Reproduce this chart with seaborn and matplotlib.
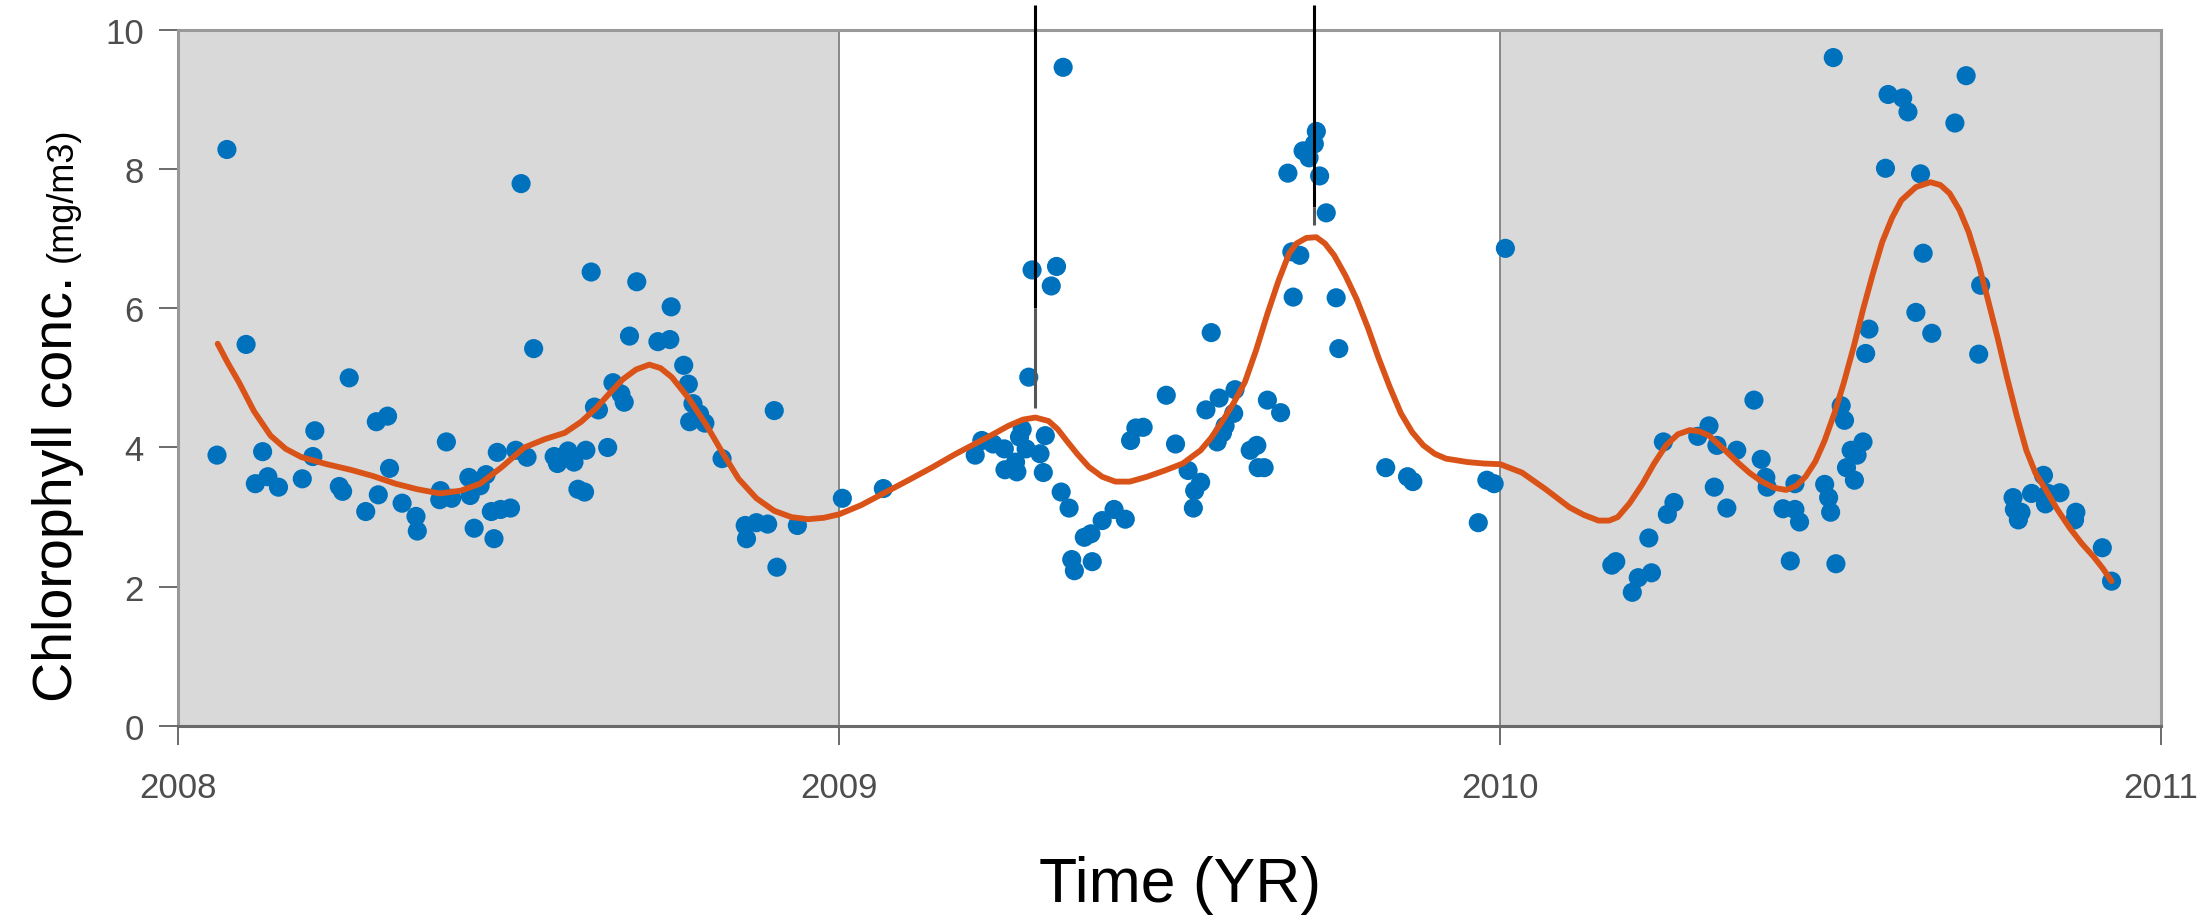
import numpy as np
import pandas as pd
import seaborn as sns
import matplotlib
matplotlib.use("Agg")
import matplotlib.pyplot as plt

sns.set_theme(style="white")
plt.rcParams["font.family"] = ["Liberation Sans", "DejaVu Sans"]

# observed chlorophyll samples (decimal year, mg/m3)
obs_time = [
    2008.059, 2008.074, 2008.103, 2008.117, 2008.128, 2008.136, 2008.152, 2008.188,
    2008.204, 2008.207, 2008.244, 2008.249, 2008.259, 2008.284, 2008.300, 2008.303,
    2008.317, 2008.320, 2008.339, 2008.360, 2008.362, 2008.396, 2008.397, 2008.406,
    2008.414, 2008.440, 2008.442, 2008.448, 2008.457, 2008.466, 2008.474, 2008.478,
    2008.483, 2008.488, 2008.503, 2008.511, 2008.519, 2008.528, 2008.538, 2008.569,
    2008.574, 2008.590, 2008.599, 2008.605, 2008.615, 2008.617, 2008.625, 2008.630,
    2008.636, 2008.650, 2008.658, 2008.670, 2008.675, 2008.683, 2008.694, 2008.726,
    2008.744, 2008.746, 2008.765, 2008.772, 2008.774, 2008.779, 2008.789, 2008.797,
    2008.823, 2008.858, 2008.860, 2008.875, 2008.892, 2008.902, 2008.906, 2008.937,
    2009.005, 2009.067, 2009.206, 2009.216, 2009.233, 2009.250, 2009.251, 2009.267,
    2009.269, 2009.273, 2009.277, 2009.283, 2009.287, 2009.292, 2009.304, 2009.309,
    2009.312, 2009.321, 2009.329, 2009.336, 2009.339, 2009.348, 2009.352, 2009.356,
    2009.371, 2009.381, 2009.383, 2009.398, 2009.416, 2009.433, 2009.441, 2009.449,
    2009.460, 2009.495, 2009.509, 2009.528, 2009.536, 2009.538, 2009.547, 2009.555,
    2009.563, 2009.572, 2009.575, 2009.580, 2009.584, 2009.597, 2009.599, 2009.622,
    2009.632, 2009.634, 2009.643, 2009.648, 2009.668, 2009.679, 2009.685, 2009.687,
    2009.697, 2009.702, 2009.711, 2009.719, 2009.722, 2009.727, 2009.737, 2009.752,
    2009.756, 2009.827, 2009.860, 2009.868, 2009.967, 2009.980, 2009.991, 2010.008,
    2010.169, 2010.175, 2010.200, 2010.209, 2010.229, 2010.225, 2010.253, 2010.263,
    2010.247, 2010.299, 2010.316, 2010.328, 2010.324, 2010.343, 2010.358, 2010.384,
    2010.395, 2010.402, 2010.404, 2010.428, 2010.446, 2010.446, 2010.453, 2010.439,
    2010.491, 2010.497, 2010.500, 2010.508, 2010.504, 2010.516, 2010.521, 2010.524,
    2010.531, 2010.536, 2010.540, 2010.549, 2010.553, 2010.558, 2010.583, 2010.587,
    2010.609, 2010.617, 2010.629, 2010.636, 2010.640, 2010.653, 2010.688, 2010.705,
    2010.724, 2010.727, 2010.776, 2010.778, 2010.784, 2010.788, 2010.804, 2010.822,
    2010.825, 2010.829, 2010.847, 2010.869, 2010.871, 2010.911, 2010.925,
]
obs_chl = [
    3.89, 8.28, 5.48, 3.48, 3.94, 3.58, 3.43, 3.55,
    3.87, 4.24, 3.44, 3.37, 5.00, 3.08, 4.37, 3.32,
    4.45, 3.70, 3.20, 3.01, 2.80, 3.25, 3.38, 4.08,
    3.27, 3.57, 3.31, 2.84, 3.45, 3.61, 3.08, 2.69,
    3.93, 3.11, 3.13, 3.96, 7.79, 3.86, 5.42, 3.87,
    3.77, 3.95, 3.79, 3.40, 3.36, 3.96, 6.52, 4.58,
    4.54, 4.00, 4.93, 4.77, 4.65, 5.60, 6.38, 5.52,
    5.55, 6.02, 5.18, 4.91, 4.37, 4.63, 4.48, 4.35,
    3.84, 2.88, 2.69, 2.92, 2.90, 4.53, 2.28, 2.88,
    3.27, 3.41, 3.89, 4.10, 4.05, 3.98, 3.68, 3.79,
    3.65, 4.15, 4.26, 3.98, 5.01, 6.55, 3.91, 3.64,
    4.17, 6.32, 6.60, 3.36, 9.46, 3.13, 2.39, 2.23,
    2.71, 2.76, 2.36, 2.95, 3.11, 2.97, 4.10, 4.28,
    4.29, 4.75, 4.05, 3.67, 3.13, 3.38, 3.50, 4.54,
    5.65, 4.08, 4.71, 4.21, 4.31, 4.49, 4.83, 3.96,
    4.03, 3.71, 3.71, 4.68, 4.50, 7.94, 6.81, 6.16,
    6.76, 8.26, 8.16, 8.36, 8.54, 7.90, 7.37, 6.15,
    5.42, 3.71, 3.58, 3.51, 2.92, 3.53, 3.48, 6.86,
    2.31, 2.36, 1.92, 2.13, 2.20, 2.70, 3.04, 3.21,
    4.08, 4.16, 4.31, 4.03, 3.43, 3.13, 3.96, 4.68,
    3.83, 3.57, 3.43, 3.12, 3.48, 3.11, 2.93, 2.37,
    3.47, 3.28, 3.07, 2.33, 9.60, 4.60, 4.39, 3.71,
    3.96, 3.53, 3.89, 4.08, 5.35, 5.70, 8.01, 9.07,
    9.02, 8.82, 5.94, 7.93, 6.79, 5.64, 8.66, 9.34,
    5.34, 6.33, 3.28, 3.11, 2.96, 3.07, 3.34, 3.60,
    3.19, 3.34, 3.35, 2.96, 3.07, 2.56, 2.08,
]

# smoothed trend
trend_time = [
    2008.060, 2008.075, 2008.092, 2008.115, 2008.140, 2008.163, 2008.187, 2008.225,
    2008.261, 2008.295, 2008.329, 2008.362, 2008.396, 2008.428, 2008.457, 2008.490,
    2008.524, 2008.555, 2008.585, 2008.610, 2008.632, 2008.653, 2008.673, 2008.693,
    2008.713, 2008.730, 2008.747, 2008.773, 2008.800, 2008.824, 2008.848, 2008.875,
    2008.902, 2008.928, 2008.953, 2008.977, 2009.000, 2009.033, 2009.067, 2009.105,
    2009.142, 2009.175, 2009.209, 2009.233, 2009.256, 2009.278, 2009.297, 2009.317,
    2009.331, 2009.344, 2009.361, 2009.378, 2009.398, 2009.418, 2009.440, 2009.466,
    2009.493, 2009.520, 2009.547, 2009.563, 2009.580, 2009.597, 2009.614, 2009.631,
    2009.648, 2009.665, 2009.681, 2009.692, 2009.707, 2009.722, 2009.735, 2009.749,
    2009.766, 2009.783, 2009.800, 2009.816, 2009.833, 2009.850, 2009.867, 2009.884,
    2009.901, 2009.918, 2009.951, 2009.975, 2010.000, 2010.033, 2010.069, 2010.105,
    2010.127, 2010.149, 2010.165, 2010.178, 2010.196, 2010.215, 2010.233, 2010.251,
    2010.269, 2010.287, 2010.302, 2010.316, 2010.338, 2010.360, 2010.378, 2010.396,
    2010.415, 2010.433, 2010.448, 2010.462, 2010.477, 2010.491, 2010.506, 2010.520,
    2010.535, 2010.549, 2010.564, 2010.578, 2010.593, 2010.607, 2010.629, 2010.651,
    2010.666, 2010.680, 2010.695, 2010.709, 2010.724, 2010.738, 2010.753, 2010.767,
    2010.782, 2010.796, 2010.810, 2010.825, 2010.843, 2010.862, 2010.880, 2010.898,
    2010.912, 2010.925,
]
trend_chl = [
    5.49, 5.22, 4.94, 4.52, 4.17, 3.98, 3.86, 3.76,
    3.68, 3.59, 3.48, 3.40, 3.34, 3.38, 3.48, 3.72,
    4.00, 4.12, 4.21, 4.37, 4.56, 4.78, 4.98, 5.12,
    5.19, 5.14, 5.01, 4.70, 4.31, 3.92, 3.55, 3.27,
    3.09, 3.00, 2.97, 2.99, 3.04, 3.17, 3.34, 3.53,
    3.72, 3.90, 4.07, 4.19, 4.31, 4.40, 4.43, 4.38,
    4.26, 4.10, 3.90, 3.72, 3.58, 3.51, 3.51, 3.58,
    3.67, 3.77, 3.96, 4.14, 4.38, 4.64, 4.94, 5.40,
    5.92, 6.40, 6.79, 6.93, 7.01, 7.02, 6.93, 6.76,
    6.47, 6.13, 5.72, 5.29, 4.87, 4.49, 4.22, 4.03,
    3.91, 3.84, 3.79, 3.77, 3.76, 3.64, 3.40, 3.14,
    3.03, 2.95, 2.95, 3.00, 3.20, 3.47, 3.77, 4.03,
    4.19, 4.25, 4.23, 4.17, 3.98, 3.78, 3.63, 3.51,
    3.42, 3.39, 3.45, 3.58, 3.80, 4.10, 4.50, 4.93,
    5.45, 5.98, 6.50, 6.95, 7.30, 7.55, 7.74, 7.81,
    7.77, 7.65, 7.41, 7.09, 6.63, 6.12, 5.56, 5.00,
    4.44, 3.96, 3.63, 3.40, 3.11, 2.84, 2.62, 2.43,
    2.26, 2.08,
]

# marker lines above the two 2009 blooms
mark_time = [2009.296, 2009.719]
mark_top = [10.36, 10.36]
mark_mid = [6.00, 7.45]
mark_low = [4.56, 7.19]

shaded_years = [(2008, 2009), (2010, 2011)]
year_ticks = [2008, 2009, 2010, 2011]
chl_ticks = [0, 2, 4, 6, 8, 10]

obs = pd.DataFrame({"time": obs_time, "chl": obs_chl})
trend = pd.DataFrame({"time": trend_time, "chl": trend_chl})

fig = plt.figure(figsize=(22.03, 9.2), dpi=100)
ax = fig.add_axes([0.0808, 0.2098, 0.9002, 0.7568])

for a, b in shaded_years:
    ax.axvspan(a, b, color="#d9d9d9", lw=0, zorder=0)
for yr in year_ticks[1:-1]:
    ax.axvline(yr, color="#808080", lw=1.3, zorder=1)

sns.scatterplot(data=obs, x="time", y="chl", color="#0072BD", s=190,
                edgecolor="none", linewidth=0, ax=ax, zorder=3)
sns.lineplot(data=trend, x="time", y="chl", color="#D95319", lw=4.2,
             ax=ax, zorder=4)

ax.vlines(mark_time, mark_mid, mark_top, color="black", lw=2.2, zorder=5, clip_on=False)
ax.vlines(mark_time, mark_low, mark_mid, color="#555555", lw=2.2, zorder=5)

ax.set_xlim(2008, 2011)
ax.set_ylim(0, 10)
ax.set_xticks(year_ticks)
ax.set_xticklabels([str(y) for y in year_ticks])
ax.set_yticks(chl_ticks)

for side in ["top", "right", "left"]:
    ax.spines[side].set_color("#999999")
    ax.spines[side].set_linewidth(2.2)
ax.spines["bottom"].set_color("#6a6a6a")
ax.spines["bottom"].set_linewidth(2.2)

ax.tick_params(axis="both", direction="out", length=13.5, width=1.1,
               color="#444444", labelsize=25, labelcolor="#4d4d4d")
ax.tick_params(axis="x", pad=19, bottom=True)
ax.tick_params(axis="y", pad=11, left=True)

ax.set_xlabel("")
ax.set_ylabel("")
fig.text(0.5355, 0.020, "Time (YR)", ha="center", va="baseline", fontsize=45, color="black")

# y label: large main text, smaller units after it on the same baseline
fig.text(0.0327, 1 - 702 / 920, "Chlorophyll conc.", rotation=90, rotation_mode="anchor",
         ha="left", va="baseline", fontsize=40, color="black")
fig.text(0.0327, 1 - 262 / 920, "(mg/m3)", rotation=90, rotation_mode="anchor",
         ha="left", va="baseline", fontsize=26, color="black")

fig.savefig("out.png", dpi=100)
